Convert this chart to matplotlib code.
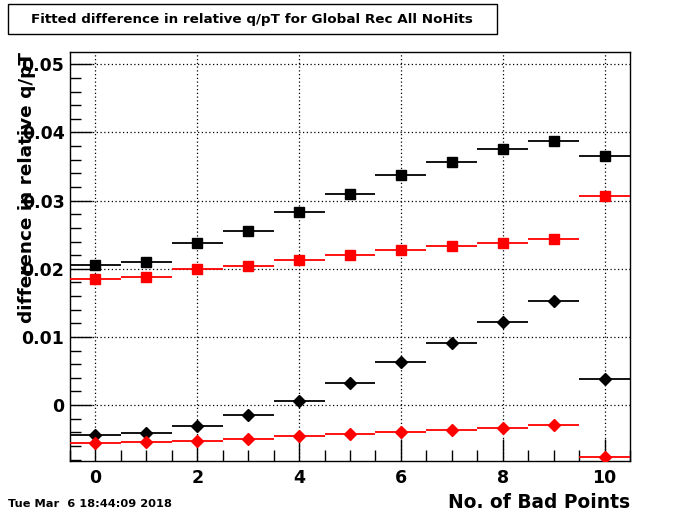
import matplotlib
matplotlib.use("Agg")
import matplotlib.pyplot as plt
from matplotlib.ticker import MultipleLocator
from matplotlib.patches import Rectangle

bad_points = [0, 1, 2, 3, 4, 5, 6, 7, 8, 9, 10]
black_squares = [0.0206, 0.0210, 0.0238, 0.0256, 0.0284, 0.0310, 0.0337, 0.0356, 0.0375, 0.0388, 0.0365]
red_squares = [0.0185, 0.0188, 0.0200, 0.0204, 0.0213, 0.0220, 0.0228, 0.0233, 0.0238, 0.0244, 0.0307]
black_diamonds = [-0.0044, -0.0041, -0.0030, -0.0015, 0.0006, 0.0032, 0.0063, 0.0091, 0.0122, 0.0153, 0.0038]
red_diamonds = [-0.0056, -0.0054, -0.0052, -0.0049, -0.0046, -0.0042, -0.0040, -0.0036, -0.0033, -0.0029, -0.0076]

title = "Fitted difference in relative q/pT for Global Rec All NoHits"
xlabel = "No. of Bad Points"
ylabel = "difference in relative q/pT"
datestamp = "Tue Mar  6 18:44:09 2018"
ytick_vals = [0, 0.01, 0.02, 0.03, 0.04, 0.05]
ytick_labels = ['0', '0.01', '0.02', '0.03', '0.04', '0.05']

plt.rcParams['font.family'] = ['DejaVu Sans']
plt.rcParams['font.weight'] = 'bold'

fig = plt.figure(figsize=(7.0, 5.14), dpi=100)
ax = fig.add_axes([0.1, 0.1031, 0.8, 0.7957])

series = [
    (black_squares, 'black', 's', 7),
    (red_squares, 'red', 's', 7),
    (black_diamonds, 'black', 'D', 5.8),
    (red_diamonds, 'red', 'D', 5.8),
]
for vals, col, mk, ms in series:
    ax.errorbar(bad_points, vals, xerr=0.5, fmt=mk, color=col, ms=ms,
                elinewidth=1.3, capsize=0, mec=col, mfc=col, zorder=3)

ax.set_xlim(-0.5, 10.5)
ax.set_ylim(-0.0082, 0.0518)
ax.xaxis.set_major_locator(MultipleLocator(2))
ax.xaxis.set_minor_locator(MultipleLocator(0.5))
ax.yaxis.set_minor_locator(MultipleLocator(0.002))
ax.set_yticks(ytick_vals)
ax.set_yticklabels(ytick_labels)
ax.tick_params(axis='both', which='major', direction='in', length=16, width=1,
               labelsize=12.5, top=False, right=False)
ax.tick_params(axis='both', which='minor', direction='in', length=8, width=1,
               top=False, right=False)
ax.tick_params(axis='x', which='major', pad=6)
ax.tick_params(axis='y', which='major', pad=4)
for lab in ax.get_xticklabels() + ax.get_yticklabels():
    lab.set_fontweight('bold')
ax.grid(True, which='major', linestyle=(0, (1, 2)), color='black', linewidth=0.9)
for sp in ax.spines.values():
    sp.set_linewidth(1)

fig.text(27 / 700, 1 - 52 / 514, ylabel, rotation=90, ha='center', va='top',
         fontsize=13.3, fontweight='bold')
fig.text(630 / 700, 1 - 503 / 514, xlabel, ha='right', va='center',
         fontsize=13.4, fontweight='bold')
fig.text(8 / 700, 1 - 504 / 514, datestamp, ha='left', va='center',
         fontsize=8.2, fontweight='bold')

fig.text(252 / 700, 1 - 19 / 514, title, ha='center', va='center',
         fontsize=9.7, fontweight='bold')
fig.patches.append(Rectangle((8 / 700, 1 - 34 / 514), 489 / 700, 30 / 514,
                             transform=fig.transFigure, fill=False, ec='black', lw=1))

fig.savefig('out.png', dpi=100)
